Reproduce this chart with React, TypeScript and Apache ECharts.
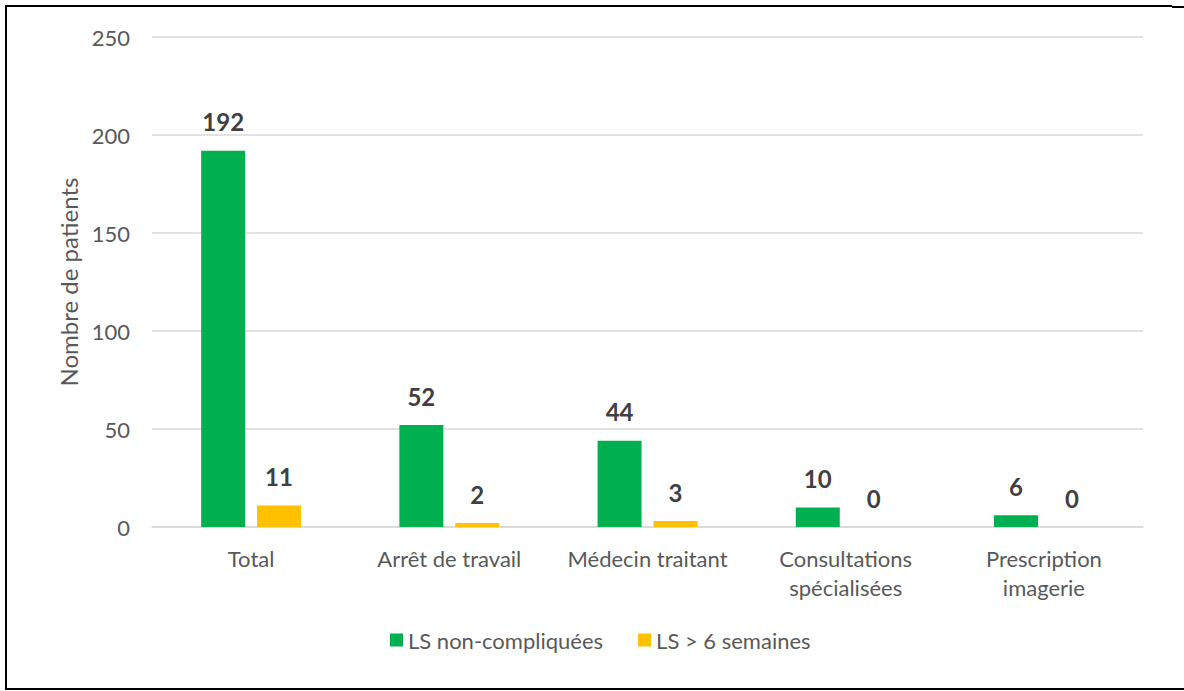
import React, { useEffect, useRef } from "react";
import * as echarts from "echarts";

const categories = [
  "Total",
  "Arrêt de travail",
  "Médecin traitant",
  "Consultations\nspécialisées",
  "Prescription\nimagerie",
];
const seriesNames = ["LS non-compliquées", "LS > 6 semaines"];
const nonCompliquees = [192, 52, 44, 10, 6];
const sixSemaines = [11, 2, 3, 0, 0];
const yTicks = { min: 0, max: 250, interval: 50 };

const FONT = "Lato, 'Open Sans', sans-serif";

export default function App() {
  const ref = useRef<HTMLDivElement>(null);
  useEffect(() => {
    if (!ref.current) return;
    const chart = echarts.init(ref.current, undefined, { renderer: "svg" });
    const labelStyle = {
      show: true,
      position: "top" as const,
      distance: 17,
      fontSize: 24,
      fontWeight: "bold" as const,
      color: "#404040",
      fontFamily: FONT,
    };
    chart.setOption({
      animation: false,
      backgroundColor: "#ffffff",
      textStyle: { fontFamily: FONT },
      grid: { left: 152, right: 41, top: 37, bottom: 164, containLabel: false },
      legend: {
        data: seriesNames,
        bottom: 40,
        left: 390,
        padding: 0,
        itemWidth: 13,
        itemHeight: 13,
        itemGap: 35,
        icon: "rect",
        textStyle: { fontSize: 22, color: "#595959", fontFamily: FONT },
      },
      xAxis: {
        type: "category",
        data: categories,
        axisLine: { lineStyle: { color: "#D9D9D9", width: 1.5 } },
        axisTick: { show: false },
        axisLabel: {
          fontSize: 22,
          color: "#595959",
          margin: 17,
          lineHeight: 29,
          fontFamily: FONT,
          interval: 0,
        },
      },
      yAxis: {
        type: "value",
        min: yTicks.min,
        max: yTicks.max,
        interval: yTicks.interval,
        name: "Nombre de patients",
        nameLocation: "middle",
        nameGap: 65,
        nameTextStyle: { fontSize: 24, color: "#595959", fontFamily: FONT },
        axisLine: { show: false },
        axisTick: { show: false },
        axisLabel: { fontSize: 22, color: "#595959", margin: 22, fontFamily: FONT },
        splitLine: { lineStyle: { color: "#D9D9D9", width: 1.5 } },
      },
      series: [
        {
          name: seriesNames[0],
          type: "bar",
          data: nonCompliquees,
          barWidth: 44,
          barGap: "27%",
          itemStyle: { color: "#00B050" },
          label: labelStyle,
        },
        {
          name: seriesNames[1],
          type: "bar",
          data: sixSemaines,
          barWidth: 44,
          barGap: "27%",
          itemStyle: { color: "#FFC000" },
          label: labelStyle,
        },
      ],
      graphic: [
        { type: "line", shape: { x1: 6, y1: 6, x2: 1172, y2: 6 }, style: { stroke: "#000", lineWidth: 2 } },
        { type: "line", shape: { x1: 1172, y1: 7, x2: 1184, y2: 7 }, style: { stroke: "#000", lineWidth: 2 } },
        { type: "line", shape: { x1: 6, y1: 5, x2: 6, y2: 690 }, style: { stroke: "#000", lineWidth: 2 } },
        { type: "line", shape: { x1: 5, y1: 689, x2: 1184, y2: 689 }, style: { stroke: "#000", lineWidth: 2 } },
      ],
    });
    return () => chart.dispose();
  }, []);
  return (
    <div
      ref={ref}
      style={{ position: "absolute", left: 0, top: 0, width: 1184, height: 691 }}
    />
  );
}
